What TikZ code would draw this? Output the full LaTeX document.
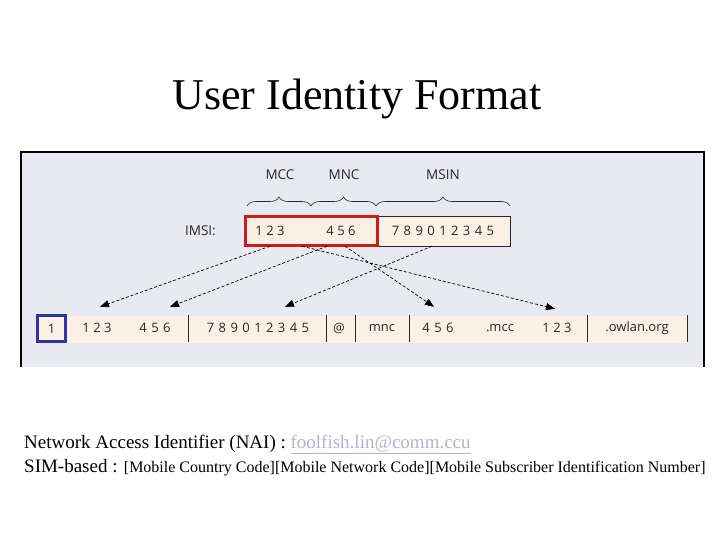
\documentclass[tikz,border=0pt]{standalone}
\usepackage{fontspec}
\setmainfont{Liberation Serif}
\newfontfamily\panelfont{Open Sans}
\newfontfamily\widefont[LetterSpace=8]{Open Sans}
\usetikzlibrary{arrows.meta, positioning, decorations.pathreplacing}
\definecolor{panel}{RGB}{233,233,242}
\definecolor{peach}{RGB}{251,240,230}
\definecolor{imsired}{RGB}{204,28,28}
\definecolor{naiblue}{RGB}{52,52,160}
\definecolor{ink}{RGB}{40,40,40}
\definecolor{linkgray}{RGB}{178,178,206}

\begin{document}
\begin{tikzpicture}[x=1pt, y=-1pt,
  seg/.style={font=\panelfont\fontsize{13}{15}\selectfont, text=ink, inner sep=0pt, minimum height=30pt},
  low/.style={seg, minimum height=42pt},
  wide/.style={font=\widefont\fontsize{13}{15}\selectfont},
  tag/.style={font=\panelfont\fontsize{13.5}{15}\selectfont, text=ink, inner sep=0pt},
  map/.style={densely dashed, line width=0.7pt, -{Triangle[length=9pt,width=7pt]}},
  bracket/.style={decorate, decoration={brace, amplitude=9pt}, line width=0.6pt, ink},
  line/.style={anchor=base west, inner sep=0pt, font=\fontsize{19}{22}\selectfont}]
  \useasboundingbox (0,0) rectangle (720,540);
  \node[anchor=base, font=\fontsize{44}{50}\selectfont] (title) at (357,110) {User Identity Format};
  % panel
  \fill[panel] (21,152) rectangle (704,367);
  \draw[line width=1.2pt] (21,367) -- (21,152) -- (704,152) -- (704,367);
  % IMSI row
  \fill[peach] (245,217) rectangle (377,245);
  \filldraw[fill=peach, draw=ink, line width=0.6pt] (377,216) rectangle (510,246);
  \draw[imsired, line width=3pt] (245,217) rectangle (377,245);
  \node[tag, anchor=east] (imsi) at (216,231) {IMSI:};
  \node[seg] (mcc) at (270,231) {1 2 3};
  \node[seg] (mnc) at (341,231) {4 5 6};
  \node[seg, wide] (msin) at (443,231) {7 8 9 0 1 2 3 4 5};
  \draw[bracket] (247,206) -- (311,206);
  \draw[bracket] (311,206) -- (376,206);
  \draw[bracket] (376,206) -- (510,206);
  \node[tag] (mcclab) at (280,175) {MCC};
  \node[tag] (mnclab) at (344,175) {MNC};
  \node[tag] (msinlab) at (443,175) {MSIN};
  % NAI row
  \fill[peach] (67,316) rectangle (687,343);
  \foreach \x in {188,326,355,409,587,687}
    \draw[ink, line width=0.9pt] (\x,315) -- (\x,342);
  \node[seg, draw=naiblue, line width=3pt, fill=peach, minimum width=28pt, minimum height=26pt] (one) at (51.5,328.5) {1};
  \node[low] (ncc1) at (97,328) {1 2 3};
  \node[low, wide] (nnc1) at (155,328) {4 5 6};
  \node[low, wide] (nsin) at (258,328) {7 8 9 0 1 2 3 4 5};
  \node[low] (nat) at (339,328) {@};
  \node[low] (nmnc) at (382,328) {mnc};
  \node[low, wide] (nnc2) at (438,328) {4 5 6};
  \node[low] (nmcc) at (500,328) {.mcc};
  \node[low] (ncc2) at (557,328) {1 2 3};
  \node[low] (nrealm) at (637,328) {.owlan.org};
  % mapping
  \draw[map] (mcc.south) -- ([xshift=3pt]ncc1.north);
  \draw[map] ([xshift=-14pt]mnc.south) -- ([xshift=15pt]nnc1.north);
  \draw[map] ([xshift=-11pt]msin.south) -- ([xshift=27pt]nsin.north);
  \draw[map] ([xshift=32pt]mcc.south) -- ([xshift=-2pt,yshift=-2pt]ncc2.north);
  \draw[map] ([xshift=4pt]mnc.south) -- ([xshift=-4pt]nnc2.north);
  % text below
  \node[line] (nai) at (24,448) {Network Access Identifier (NAI) : \textcolor{linkgray}{\underline{foolfish.lin@comm.ccu}}};
  \node[line] (sim) at (24,472) {SIM-based : {\fontsize{16}{18}\selectfont[Mobile Country Code][Mobile Network Code][Mobile Subscriber Identification Number]}};
\end{tikzpicture}
\end{document}
